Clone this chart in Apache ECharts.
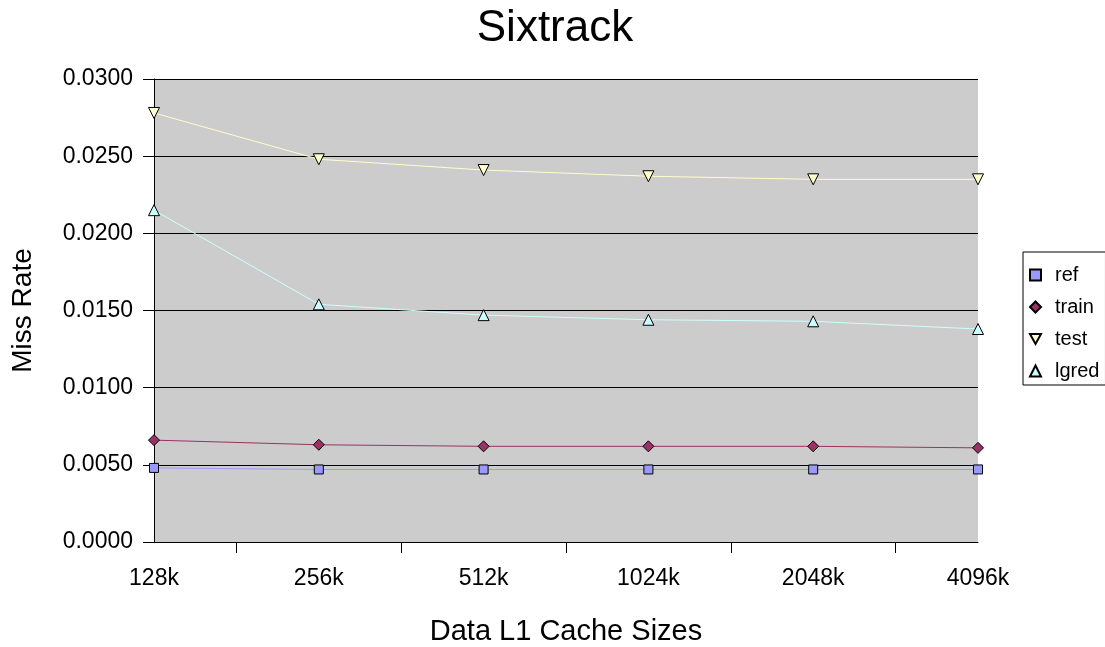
<!DOCTYPE html>
<html><head><meta charset="utf-8">
<script src="https://cdn.jsdelivr.net/npm/echarts@6/dist/echarts.min.js"></script>
<style>html,body{margin:0;padding:0;background:#fff}#c{width:1105px;height:647px}</style>
</head><body><div id="c"></div>
<script>
const categories = ['128k','256k','512k','1024k','2048k','4096k'];
const refData   = [0.0048, 0.0047, 0.0047, 0.0047, 0.0047, 0.0047];
const trainData = [0.0066, 0.0063, 0.0062, 0.0062, 0.0062, 0.0061];
const testData  = [0.0278, 0.0248, 0.0241, 0.0237, 0.0235, 0.0235];
const lgredData = [0.0215, 0.0154, 0.0147, 0.0144, 0.0143, 0.0138];
const yTicks = {min: 0, max: 0.03, interval: 0.005};

const font = 'Liberation Sans, Arial, sans-serif';
const tickSlots = [];
for (let i = 0; i < categories.length * 2 - 1; i++) tickSlots.push('');

function mk(name, data, color, symbol, size) {
  return {
    name, type: 'line', data, xAxisIndex: 0, yAxisIndex: 0,
    symbol, symbolSize: size,
    lineStyle: {color, width: 1},
    itemStyle: {color, borderColor: '#000', borderWidth: 1},
    emphasis: {disabled: true}, animation: false
  };
}
const triDown = 'path://M0,0 L10,0 L5,9 Z';

const chart = echarts.init(document.getElementById('c'), null, {renderer: 'canvas'});
chart.setOption({
  backgroundColor: '#fff',
  animation: false,
  title: {text: 'Sixtrack', left: 550, top: 2, textAlign: 'center',
    textStyle: {fontFamily: font, fontSize: 44, fontWeight: 'normal', color: '#000'}},
  legend: {
    orient: 'vertical', left: 1023, top: 252,
    backgroundColor: '#fff', borderColor: '#000', borderWidth: 1, borderRadius: 0,
    padding: [13, 6, 4, 6], itemGap: 12, itemWidth: 11, itemHeight: 11,
    textStyle: {fontFamily: font, fontSize: 20, color: '#000', padding: [0, 0, 0, 9]},
    data: [
      {name: 'ref', icon: 'rect'},
      {name: 'train', icon: 'diamond'},
      {name: 'test', icon: triDown},
      {name: 'lgred', icon: 'triangle'}
    ]
  },
  grid: {left: 154, right: 127, top: 79, bottom: 105, show: true,
    containLabel: false, outerBoundsMode: 'none',
    backgroundColor: '#cccccc', borderWidth: 0},
  xAxis: [{
    type: 'category', data: categories, boundaryGap: false,
    name: 'Data L1 Cache Sizes', nameLocation: 'middle', nameGap: 75,
    nameTextStyle: {fontFamily: font, fontSize: 29, color: '#000'},
    axisLine: {lineStyle: {color: '#000', width: 1}},
    axisTick: {show: false},
    axisLabel: {fontFamily: font, fontSize: 23, color: '#000', margin: 25},
    splitLine: {show: false}
  }, {
    type: 'category', data: tickSlots, boundaryGap: false, position: 'bottom',
    axisLine: {show: false},
    axisTick: {show: true, length: 11, lineStyle: {color: '#000'},
      interval: function (i) { return i % 2 === 1; }},
    axisLabel: {show: false}, splitLine: {show: false}
  }],
  yAxis: {
    type: 'value', min: yTicks.min, max: yTicks.max, interval: yTicks.interval,
    name: 'Miss Rate', nameLocation: 'middle', nameGap: 117, nameRotate: 90,
    nameTextStyle: {fontFamily: font, fontSize: 28, color: '#000'},
    axisLine: {show: true, lineStyle: {color: '#000', width: 1}},
    axisTick: {show: true, length: 11, lineStyle: {color: '#000'}},
    axisLabel: {fontFamily: font, fontSize: 23, color: '#000', margin: 21,
      formatter: v => v.toFixed(4)},
    splitLine: {show: true, lineStyle: {color: '#000', width: 1}}
  },
  series: [
    mk('ref', refData, '#9999ff', 'rect', 9),
    mk('train', trainData, '#993366', 'diamond', 11),
    mk('test', testData, '#ffffcc', triDown, 11),
    mk('lgred', lgredData, '#ccffff', 'triangle', 11)
  ]
});
</script></body></html>
